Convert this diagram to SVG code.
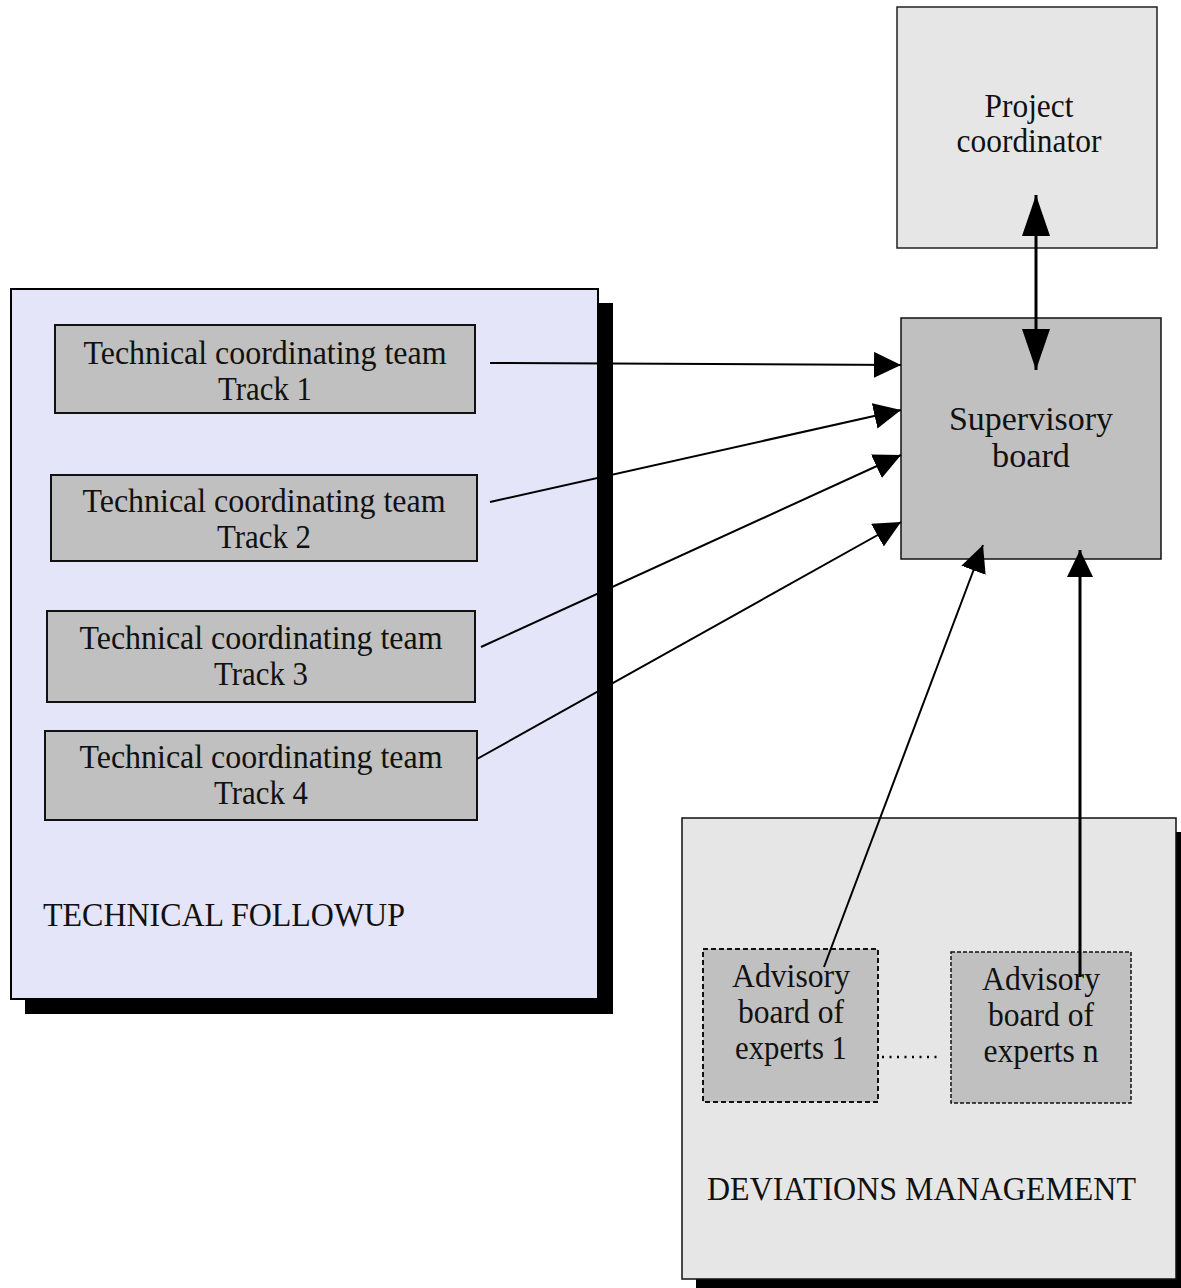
<svg xmlns="http://www.w3.org/2000/svg" width="1181" height="1288" viewBox="0 0 1181 1288">
  <style>
    text { font-family: "Liberation Serif", "Times New Roman", serif; font-size: 34px; fill: #111; }
    .c { text-anchor: middle; }
    .team { fill: #c0c0c0; stroke: #111; stroke-width: 2; }
    .adv { fill: #c0c0c0; stroke: #111; stroke-width: 2; stroke-dasharray: 5 3; }
    .shadow { fill: #000; }
    .conn { stroke: #000; fill: none; }
  </style>
  <defs>
    <marker id="ah" viewBox="0 0 27 26" refX="27" refY="13" markerWidth="27" markerHeight="26" markerUnits="userSpaceOnUse" orient="auto-start-reverse">
      <path d="M0,0 L27,13 L0,26 Z" fill="#000"/>
    </marker>
    <marker id="ahl" viewBox="0 0 41 28" refX="41" refY="14" markerWidth="41" markerHeight="28" markerUnits="userSpaceOnUse" orient="auto-start-reverse">
      <path d="M0,0 L41,14 L0,28 Z" fill="#000"/>
    </marker>
  </defs>
  <rect width="1181" height="1288" fill="#fff"/>

  <g id="technical-followup">
    <rect class="shadow" x="25" y="303" width="588" height="711"/>
    <rect x="11" y="289" width="587" height="710" fill="#e5e5fa" stroke="#000" stroke-width="2"/>
    <text x="43" y="926" textLength="362" lengthAdjust="spacingAndGlyphs">TECHNICAL FOLLOWUP</text>
  </g>

  <g id="track1">
    <rect class="team" x="55" y="325" width="420" height="88"/>
    <text class="c" x="265" y="364" textLength="363" lengthAdjust="spacingAndGlyphs">Technical coordinating team</text>
    <text class="c" x="265" y="400" textLength="94" lengthAdjust="spacingAndGlyphs">Track 1</text>
  </g>
  <g id="track2">
    <rect class="team" x="51" y="475" width="426" height="86"/>
    <text class="c" x="264" y="512" textLength="363" lengthAdjust="spacingAndGlyphs">Technical coordinating team</text>
    <text class="c" x="264" y="548" textLength="94" lengthAdjust="spacingAndGlyphs">Track 2</text>
  </g>
  <g id="track3">
    <rect class="team" x="47" y="611" width="428" height="91"/>
    <text class="c" x="261" y="649" textLength="363" lengthAdjust="spacingAndGlyphs">Technical coordinating team</text>
    <text class="c" x="261" y="685" textLength="94" lengthAdjust="spacingAndGlyphs">Track 3</text>
  </g>
  <g id="track4">
    <rect class="team" x="45" y="731" width="432" height="89"/>
    <text class="c" x="261" y="768" textLength="363" lengthAdjust="spacingAndGlyphs">Technical coordinating team</text>
    <text class="c" x="261" y="804" textLength="94" lengthAdjust="spacingAndGlyphs">Track 4</text>
  </g>

  <g id="project-coordinator">
    <rect x="897" y="7" width="260" height="241" fill="#e6e6e6" stroke="#222" stroke-width="1.5"/>
    <text class="c" x="1029" y="117" textLength="89" lengthAdjust="spacingAndGlyphs">Project</text>
    <text class="c" x="1029" y="152" textLength="145" lengthAdjust="spacingAndGlyphs">coordinator</text>
  </g>

  <g id="supervisory-board">
    <rect x="901" y="318" width="260" height="241" fill="#c0c0c0" stroke="#111" stroke-width="1.5"/>
    <text class="c" x="1031" y="430" textLength="164" lengthAdjust="spacingAndGlyphs">Supervisory</text>
    <text class="c" x="1031" y="467" textLength="78" lengthAdjust="spacingAndGlyphs">board</text>
  </g>

  <g id="deviations-management">
    <rect class="shadow" x="696" y="832" width="500" height="470"/>
    <rect x="682" y="818" width="494" height="461" fill="#e6e6e6" stroke="#111" stroke-width="1.5"/>
    <text x="707" y="1200" textLength="429" lengthAdjust="spacingAndGlyphs">DEVIATIONS MANAGEMENT</text>
  </g>

  <g id="advisory-1">
    <rect class="adv" x="703" y="949" width="175" height="153"/>
    <text class="c" x="791" y="987" textLength="118" lengthAdjust="spacingAndGlyphs">Advisory</text>
    <text class="c" x="791" y="1023" textLength="106" lengthAdjust="spacingAndGlyphs">board of</text>
    <text class="c" x="791" y="1059" textLength="112" lengthAdjust="spacingAndGlyphs">experts 1</text>
  </g>
  <g id="advisory-n">
    <rect class="adv" x="951" y="952" width="180" height="151" style="stroke-width:1.5;stroke-dasharray:4 2"/>
    <text class="c" x="1041" y="990" textLength="118" lengthAdjust="spacingAndGlyphs">Advisory</text>
    <text class="c" x="1041" y="1026" textLength="106" lengthAdjust="spacingAndGlyphs">board of</text>
    <text class="c" x="1041" y="1062" textLength="115" lengthAdjust="spacingAndGlyphs">experts n</text>
  </g>

  <g id="connectors">
    <line class="conn" x1="490" y1="363" x2="901" y2="365" stroke-width="2" marker-end="url(#ah)"/>
    <line class="conn" x1="490" y1="502" x2="901" y2="410" stroke-width="2" marker-end="url(#ah)"/>
    <line class="conn" x1="481" y1="647" x2="901" y2="455" stroke-width="2" marker-end="url(#ah)"/>
    <line class="conn" x1="477" y1="759" x2="901" y2="522" stroke-width="2" marker-end="url(#ah)"/>
    <line class="conn" x1="824" y1="967" x2="983" y2="545" stroke-width="2" marker-end="url(#ah)"/>
    <line class="conn" x1="1080" y1="977" x2="1080" y2="550" stroke-width="3" marker-end="url(#ah)"/>
    <line class="conn" x1="1036" y1="195" x2="1036" y2="370" stroke-width="3" marker-start="url(#ahl)" marker-end="url(#ahl)"/>
    <line class="conn" x1="882" y1="1057" x2="942" y2="1057" stroke-width="2.5" stroke-dasharray="2 5.5"/>
  </g>
</svg>
